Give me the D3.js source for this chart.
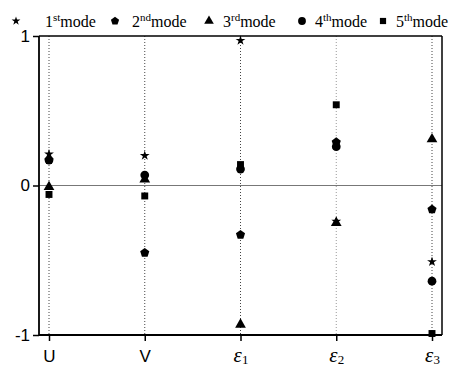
<!DOCTYPE html>
<html>
<head>
<meta charset="utf-8">
<script src="https://cdn.jsdelivr.net/npm/d3@7"></script>
<style>
  body { margin: 0; background: #fff; }
  svg { display: block; }
</style>
</head>
<body>
<svg id="chart" width="467" height="366"></svg>
<script>
// categories and mode values
const categories = ['U', 'V', 'e1', 'e2', 'e3'];
const mode1 = [0.21, 0.20, 0.97, -0.24, -0.51];
const mode2 = [0.17, -0.45, -0.33, 0.29, -0.16];
const mode3 = [-0.01, 0.04, -0.93, -0.25, 0.31];
const mode4 = [0.17, 0.07, 0.11, 0.26, -0.64];
const mode5 = [-0.06, -0.07, 0.14, 0.54, -0.99];
const yTicks = [-1, 0, 1];
const modeNames = ['1', '2', '3', '4', '5'];
const modeSups = ['st', 'nd', 'rd', 'th', 'th'];

const svg = d3.select('#chart');
const plotLeft = 39, plotRight = 442, plotTop = 36, plotBottom = 335;

const x = d3.scalePoint().domain(categories).range([49, 432]);
const y = d3.scaleLinear().domain([-1, 1]).range([plotBottom, plotTop]);

// pentagon symbol, d3 has none
const symbolPentagon = {
  draw(ctx, size) {
    const r = Math.sqrt(size / 2.378);
    for (let i = 0; i < 5; i++) {
      const a = -Math.PI / 2 + i * 2 * Math.PI / 5;
      if (i === 0) ctx.moveTo(r * Math.cos(a), r * Math.sin(a));
      else ctx.lineTo(r * Math.cos(a), r * Math.sin(a));
    }
    ctx.closePath();
  }
};

const series = [
  { values: mode1, type: d3.symbolStar, size: 30 },
  { values: mode2, type: symbolPentagon, size: 55 },
  { values: mode3, type: d3.symbolTriangle, size: 50 },
  { values: mode4, type: d3.symbolCircle, size: 60 },
  { values: mode5, type: d3.symbolSquare, size: 48 }
];

const g = svg.append('g');

// vertical dotted guides
g.selectAll('line.guide')
  .data(categories)
  .enter().append('line')
  .attr('class', 'guide')
  .attr('x1', d => x(d)).attr('x2', d => x(d))
  .attr('y1', plotTop).attr('y2', plotBottom)
  .attr('stroke', (d, i) => i === 3 ? '#999' : '#444')
  .attr('stroke-width', 1)
  .attr('stroke-dasharray', '1,2');

// zero line
g.append('line')
  .attr('x1', plotLeft).attr('x2', plotRight)
  .attr('y1', y(0)).attr('y2', y(0))
  .attr('stroke', '#777').attr('stroke-width', 1.2);

// frame
g.append('line').attr('x1', plotLeft).attr('x2', plotRight).attr('y1', plotTop).attr('y2', plotTop)
  .attr('stroke', '#000').attr('stroke-width', 1.5);
g.append('line').attr('x1', plotRight).attr('x2', plotRight).attr('y1', plotTop).attr('y2', plotBottom)
  .attr('stroke', '#000').attr('stroke-width', 1.5);

// axes
const yAxis = g.append('g')
  .attr('transform', 'translate(' + plotLeft + ',0)')
  .call(d3.axisLeft(y).tickValues(yTicks).tickSize(6).tickFormat(d3.format('d')));
yAxis.select('.domain').attr('stroke-width', 1.8).attr('d', 'M0,' + plotTop + 'V' + plotBottom);
yAxis.selectAll('.tick line').attr('stroke-width', 1.5);
yAxis.selectAll('.tick text')
  .attr('x', -9)
  .attr('fill', '#000')
  .style('font-family', 'Liberation Sans, Arial, sans-serif')
  .style('font-size', '17px')
  .text(d => d < 0 ? '-' + Math.abs(d) : d);

const xAxis = g.append('g')
  .attr('transform', 'translate(0,' + plotBottom + ')')
  .call(d3.axisBottom(x).tickSize(6).tickFormat(''));
xAxis.select('.domain').attr('stroke-width', 1.8).attr('d', 'M' + plotLeft + ',0H' + plotRight);
xAxis.selectAll('.tick line').attr('stroke-width', 1.5);

// x labels
xAxis.selectAll('.tick').each(function(d) {
  const t = d3.select(this).append('text')
    .attr('y', 27)
    .attr('fill', '#000')
    .attr('text-anchor', 'middle');
  if (d[0] === 'e') {
    t.style('font-family', 'Liberation Serif, Times New Roman, serif');
    t.append('tspan').style('font-size', '21px').style('font-style', 'italic').text('ε');
    t.append('tspan').style('font-size', '13px').attr('dy', 2).text(d.slice(1));
  } else {
    t.style('font-family', 'Liberation Sans, Arial, sans-serif')
      .style('font-size', '17px').text(d);
  }
});

// markers
series.forEach(s => {
  g.selectAll(null)
    .data(s.values)
    .enter().append('path')
    .attr('transform', (v, i) => 'translate(' + x(categories[i]) + ',' + y(v) + ')')
    .attr('d', d3.symbol().type(s.type).size(s.size))
    .attr('fill', '#000');
});

// legend
const legendMarkX = [16, 115, 209, 302, 383];
const legendTextX = [45, 132, 223, 315, 396];
const legend = svg.append('g');
series.forEach((s, i) => {
  legend.append('path')
    .attr('transform', 'translate(' + legendMarkX[i] + ',21)')
    .attr('d', d3.symbol().type(s.type).size(s.size * 0.8))
    .attr('fill', '#000');
  const t = legend.append('text')
    .attr('x', legendTextX[i]).attr('y', 27)
    .style('font-family', 'Liberation Serif, Times New Roman, serif')
    .style('font-size', '16px');
  t.append('tspan').text(modeNames[i]);
  t.append('tspan').attr('dy', -6).style('font-size', '11px').text(modeSups[i]);
  t.append('tspan').attr('dy', 6).text('mode');
});
</script>
</body>
</html>
